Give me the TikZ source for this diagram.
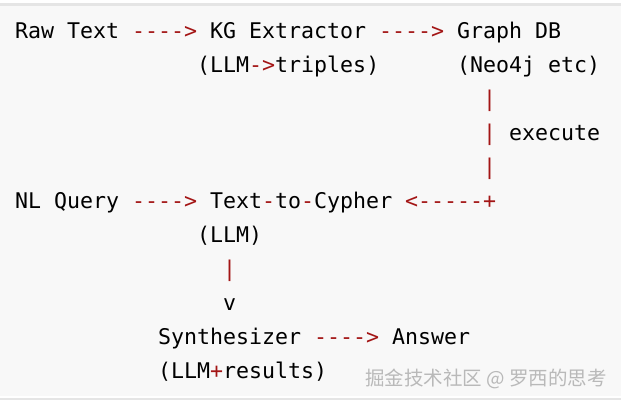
\documentclass[tikz,border=0pt]{standalone}
\usepackage{fontspec}
\setmonofont{DejaVu Sans Mono}
\newfontfamily\cjk{Noto Sans CJK SC}
\usetikzlibrary{positioning}
\definecolor{codebg}{HTML}{F8F8F8}
\definecolor{arrred}{HTML}{A31515}
\tikzset{
  txt/.style={inner sep=0pt,anchor=base west,font=\ttfamily\fontsize{21.6}{24}\selectfont},
  arr/.style={txt,text=arrred}
}
% column/row to position
\newcommand{\at}[2]{({15+13*#1},{-38-34*#2})}
\begin{document}
\begin{tikzpicture}[x=1pt,y=1pt]
\useasboundingbox (0,0) rectangle (621,-400);
\fill[codebg] (0,-6) rectangle (621,-396);
\draw[gray!20,line width=3pt] (0,-4) -- (621,-4);
\draw[gray!20,line width=2pt] (0,-399) -- (621,-399);
% first line
\node[txt] (raw) at \at{0}{0} {Raw Text};
\node[arr] (a1) at \at{9}{0} {---{}->};
\node[txt] (kg) at \at{15}{0} {KG Extractor};
\node[arr] (a2) at \at{28}{0} {---{}->};
\node[txt] (gdb) at \at{34}{0} {Graph DB};
\node[txt] (kgl) at \at{14}{1} {(LLM\textcolor{arrred}{-{}>}triples)};
\node[txt] (gdbl) at \at{34}{1} {(Neo4j etc)};
\foreach \r in {2,3,4}
  \node[arr] (v\r) at \at{36}{\r} {|};
\node[txt] (ex) at \at{38}{3} {execute};
% second line
\node[txt] (nlq) at \at{0}{5} {NL Query};
\node[arr] (a3) at \at{9}{5} {---{}->};
\node[txt] (t2c) at \at{15}{5} {Text\textcolor{arrred}{-}to\textcolor{arrred}{-}Cypher};
\node[arr] (a4) at \at{30}{5} {<---{}--+};
\node[txt] (t2cl) at \at{14}{6} {(LLM)};
\node[arr] (v7) at \at{16}{7} {|};
\node[txt] (v8) at \at{16}{8} {v};
% third line
\node[txt] (syn) at \at{11}{9} {Synthesizer};
\node[arr] (a5) at \at{23}{9} {---{}->};
\node[txt] (ans) at \at{29}{9} {Answer};
\node[txt] (synl) at \at{11}{10} {(LLM\textcolor{arrred}{+}results)};
\node[anchor=base east,inner sep=0pt,text=gray!55,font=\cjk\fontsize{19.5}{22}\selectfont] (wm) at (607,-385) {掘金技术社区 @ 罗西的思考};
\end{tikzpicture}
\end{document}
